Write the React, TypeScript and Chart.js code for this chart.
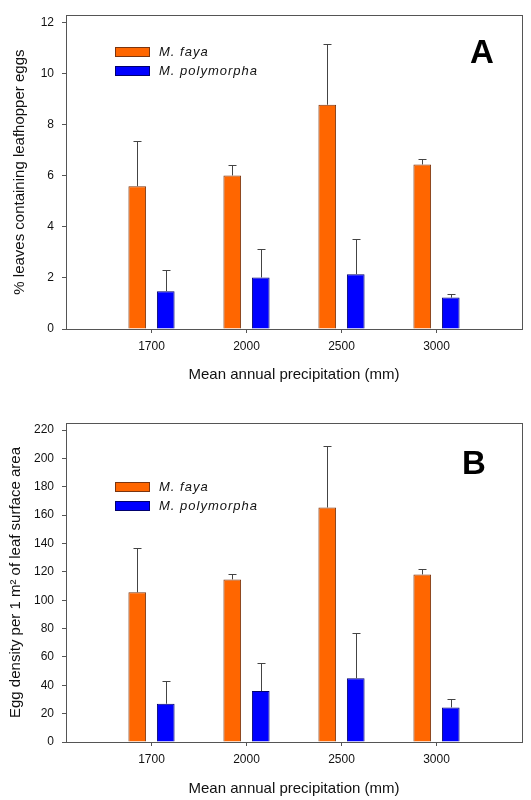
import React, { useEffect, useRef } from 'react';
import { Chart, registerables } from 'chart.js';

Chart.register(...registerables);

// ---------- data ----------
const precipitation = ['1700', '2000', '2500', '3000'];
const seriesNames = ['M. faya', 'M. polymorpha'];

const fayaLeaves = [5.6, 6.02, 8.79, 6.45];
const fayaLeavesErr = [1.78, 0.4, 2.4, 0.22];
const polyLeaves = [1.48, 2.02, 2.15, 1.23];
const polyLeavesErr = [0.85, 1.1, 1.37, 0.15];
const leavesTicks = [0, 2, 4, 6, 8, 10, 12];

const fayaDensity = [105.6, 114.7, 165.4, 118.2];
const fayaDensityErr = [31.4, 4, 43.1, 4];
const polyDensity = [27, 35.9, 45, 24.4];
const polyDensityErr = [15.9, 20.1, 31.9, 5.6];
const densityTicks = [0, 20, 40, 60, 80, 100, 120, 140, 160, 180, 200, 220];

// ---------- styles ----------
const FONT = "'Liberation Sans', Arial, sans-serif";
const TEXT = '#111111';
const AXIS = '#555555';
const ORANGE = '#ff6600';
const ORANGE_EDGE = '#7a3510';
const BLUE = '#0000ff';
const BLUE_EDGE = '#00006e';

const framePlugin = {
  id: 'frame',
  afterDraw(chart: any) {
    const { ctx, chartArea: a } = chart;
    ctx.save();
    ctx.strokeStyle = AXIS;
    ctx.lineWidth = 1;
    ctx.strokeRect(Math.round(a.left) + 0.5, Math.round(a.top) + 0.5, Math.round(a.right - a.left), Math.round(a.bottom - a.top));
    ctx.restore();
  },
};

const errorBarPlugin = {
  id: 'errorBars',
  afterDatasetsDraw(chart: any) {
    const { ctx } = chart;
    const ys = chart.scales.y;
    ctx.save();
    ctx.strokeStyle = '#444444';
    ctx.lineWidth = 1;
    chart.data.datasets.forEach((ds: any, di: number) => {
      const meta = chart.getDatasetMeta(di);
      meta.data.forEach((bar: any, i: number) => {
        const v = ds.data[i].y;
        const top = Math.round(ys.getPixelForValue(v + ds.errors[i])) + 0.5;
        const x = Math.round(bar.x) + 0.5;
        ctx.beginPath();
        ctx.moveTo(x, bar.y);
        ctx.lineTo(x, top);
        ctx.moveTo(x - 4, top);
        ctx.lineTo(x + 4, top);
        ctx.stroke();
      });
    });
    ctx.restore();
  },
};

const legendPlugin = {
  id: 'innerLegend',
  afterDraw(chart: any, _args: any, opts: any) {
    const { ctx } = chart;
    ctx.save();
    chart.data.datasets.forEach((ds: any, i: number) => {
      const y = opts.y + i * opts.gap;
      ctx.fillStyle = ds.backgroundColor;
      ctx.fillRect(opts.x, y, 35, 10);
      ctx.strokeStyle = ds.borderColor;
      ctx.lineWidth = 1;
      ctx.strokeRect(opts.x + 0.5, y + 0.5, 34, 9);
      ctx.fillStyle = TEXT;
      ctx.font = `italic 13px ${FONT}`;
      (ctx as any).letterSpacing = '1px';
      ctx.textBaseline = 'middle';
      ctx.textAlign = 'left';
      ctx.fillText(ds.label, opts.x + 44, y + 5);
    });
    (ctx as any).letterSpacing = '0px';
    ctx.font = `bold 33px ${FONT}`;
    ctx.fillStyle = '#000';
    ctx.textAlign = 'center';
    ctx.textBaseline = 'middle';
    ctx.fillText(opts.letter, opts.letterX, opts.letterY);
    ctx.restore();
  },
};

type PanelProps = {
  faya: number[];
  fayaErr: number[];
  poly: number[];
  polyErr: number[];
  yTicks: number[];
  yMax: number;
  yTitle: string;
  letter: string;
  letterX: number;
  letterY: number;
  legendY: number;
  padTop: number;
  xHeight: number;
  xTitlePad: number;
  yTitlePad: number;
};

function Panel(p: PanelProps) {
  const ref = useRef<HTMLCanvasElement>(null);
  useEffect(() => {
    if (!ref.current) return;
    const chart = new Chart(ref.current, {
      type: 'bar',
      data: {
        datasets: [
          {
            label: seriesNames[0],
            data: precipitation.map((_, i) => ({ x: i + 1, y: p.faya[i] })),
            errors: p.fayaErr,
            backgroundColor: ORANGE,
            borderColor: ORANGE_EDGE,
            borderWidth: 1,
            categoryPercentage: 0.6,
            barPercentage: 0.62,
          } as any,
          {
            label: seriesNames[1],
            data: precipitation.map((_, i) => ({ x: i + 1, y: p.poly[i] })),
            errors: p.polyErr,
            backgroundColor: BLUE,
            borderColor: BLUE_EDGE,
            borderWidth: 1,
            categoryPercentage: 0.6,
            barPercentage: 0.62,
          } as any,
        ],
      },
      options: {
        animation: false,
        responsive: false,
        layout: { padding: { top: p.padTop, right: 9, left: 0, bottom: 0 } },
        plugins: {
          legend: { display: false },
          tooltip: { enabled: false },
          innerLegend: { x: 115, y: p.legendY, gap: 19, letter: p.letter, letterX: p.letterX, letterY: p.letterY },
        } as any,
        scales: {
          x: {
            type: 'linear',
            min: 0.1,
            max: 4.9,
            offset: false,
            grid: { drawOnChartArea: false, drawTicks: true, tickLength: 4, color: AXIS, offset: false },
            border: { display: true, color: AXIS },
            afterBuildTicks: (s: any) => {
              s.ticks = precipitation.map((_, i) => ({ value: i + 1 }));
            },
            afterFit: (s: any) => {
              s.height = p.xHeight;
            },
            ticks: {
              padding: 6,
              color: TEXT,
              font: { family: FONT, size: 12 },
              maxRotation: 0,
              callback: (_v: any, i: number) => precipitation[i],
            },
            title: {
              display: true,
              text: 'Mean annual precipitation (mm)',
              color: TEXT,
              font: { family: FONT, size: 15 },
              padding: { top: 0, bottom: p.xTitlePad },
            },
          },
          y: {
            type: 'linear',
            min: 0,
            max: p.yMax,
            grid: { drawOnChartArea: false, drawTicks: true, tickLength: 4, color: AXIS },
            border: { display: true, color: AXIS },
            afterBuildTicks: (s: any) => {
              s.ticks = p.yTicks.map((v) => ({ value: v }));
            },
            afterFit: (s: any) => {
              s.width = 66;
            },
            ticks: {
              padding: 8,
              color: TEXT,
              font: { family: FONT, size: 12 },
            },
            title: {
              display: true,
              text: p.yTitle,
              color: TEXT,
              font: { family: FONT, size: 15 },
              padding: { top: p.yTitlePad, bottom: 0 },
            },
          },
        },
      } as any,
      plugins: [framePlugin, errorBarPlugin, legendPlugin],
    });
    return () => chart.destroy();
  }, []);
  return <canvas ref={ref} width={531} height={400} style={{ display: 'block', width: 531, height: 400 }} />;
}

export default function App() {
  return (
    <div style={{ position: 'absolute', left: 0, top: 0, width: 531, height: 800, background: '#fff' }}>
      <Panel
        faya={fayaLeaves}
        fayaErr={fayaLeavesErr}
        poly={polyLeaves}
        polyErr={polyLeavesErr}
        yTicks={leavesTicks}
        yMax={12.3}
        yTitle="% leaves containing leafhopper eggs"
        letter="A"
        letterX={482}
        letterY={54}
        legendY={47}
        padTop={9}
        xHeight={71}
        xTitlePad={15.7}
        yTitlePad={11}
      />
      <Panel
        faya={fayaDensity}
        fayaErr={fayaDensityErr}
        poly={polyDensity}
        polyErr={polyDensityErr}
        yTicks={densityTicks}
        yMax={225}
        yTitle="Egg density per 1 m² of leaf surface area"
        letter="B"
        letterX={474}
        letterY={65}
        legendY={82}
        padTop={23}
        xHeight={58}
        xTitlePad={2}
        yTitlePad={6.4}
      />
    </div>
  );
}
